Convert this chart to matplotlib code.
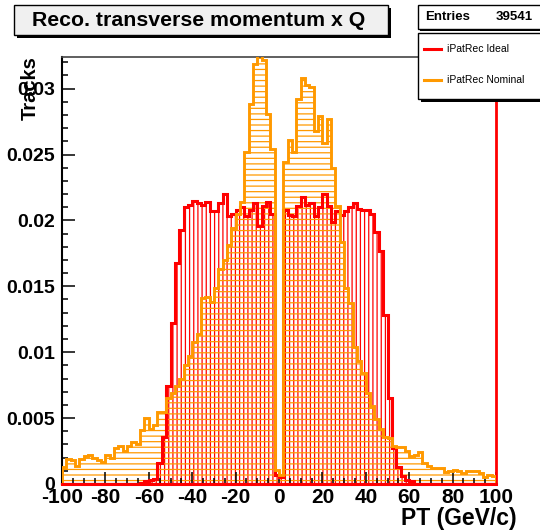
import matplotlib
matplotlib.use('Agg')
import matplotlib.pyplot as plt
import numpy as np
from matplotlib.patches import Rectangle
from matplotlib.lines import Line2D
from matplotlib.ticker import MultipleLocator

plt.rcParams['font.family'] = ['Liberation Sans', 'DejaVu Sans']
plt.rcParams['hatch.linewidth'] = 0.9

# ---------------- data ----------------
bin_edges = np.arange(-100, 101, 2)

ideal = [
    0, 0, 0, 0, 0, 0, 0, 0, 0, 0,
    0, 0, 0, 0, 0, 0, 0, 0, 0.0001, 0.0002,
    0.0003, 0.0004, 0.0016, 0.0036, 0.0074, 0.0122, 0.0168, 0.0193, 0.0210, 0.0212,
    0.0215, 0.0213, 0.0212, 0.0214, 0.0207, 0.0207, 0.0213, 0.0220, 0.0203, 0.0205,
    0.0208, 0.0210, 0.0203, 0.0208, 0.0213, 0.0196, 0.0211, 0.0214, 0.0205, 0.0007,
    0.0005, 0.0208, 0.0204, 0.0203, 0.0211, 0.0218, 0.0212, 0.0213, 0.0203, 0.0210,
    0.0220, 0.0211, 0.0199, 0.0207, 0.0204, 0.0207, 0.0210, 0.0213, 0.0209, 0.0208,
    0.0208, 0.0205, 0.0191, 0.0177, 0.0128, 0.0065, 0.0027, 0.0013, 0.0006, 0.0003,
    0.0002, 0, 0, 0, 0, 0, 0, 0, 0, 0,
    0, 0, 0, 0, 0, 0, 0, 0, 0, 0,
]

nominal = [
    0.0013, 0.0019, 0.0018, 0.0014, 0.0019, 0.0021, 0.0022, 0.0020, 0.0018, 0.0017,
    0.0022, 0.0020, 0.0027, 0.0029, 0.0025, 0.0029, 0.0032, 0.0030, 0.0041, 0.0050,
    0.0042, 0.0045, 0.0055, 0.0055, 0.0065, 0.0069, 0.0074, 0.0080, 0.0090, 0.0097,
    0.0108, 0.0114, 0.0141, 0.0142, 0.0138, 0.0149, 0.0163, 0.0170, 0.0181, 0.0194,
    0.0205, 0.0214, 0.0252, 0.0288, 0.0319, 0.0330, 0.0322, 0.0281, 0.0254, 0.0011,
    0.0007, 0.0244, 0.0261, 0.0252, 0.0292, 0.0308, 0.0303, 0.0301, 0.0268, 0.0279,
    0.0259, 0.0277, 0.0240, 0.0211, 0.0184, 0.0149, 0.0137, 0.0104, 0.0093, 0.0084,
    0.0069, 0.0059, 0.0049, 0.0042, 0.0036, 0.0035, 0.0029, 0.0028, 0.0028, 0.0025,
    0.0021, 0.0022, 0.0024, 0.0016, 0.0014, 0.0012, 0.0012, 0.0012, 0.0009, 0.0010,
    0.0011, 0.0010, 0.0008, 0.0010, 0.0010, 0.0010, 0.0008, 0.0005, 0.0007, 0.0006,
]

x_ticks = [-100, -80, -60, -40, -20, 0, 20, 40, 60, 80, 100]
x_tick_labels = ['-100', '-80', '-60', '-40', '-20', '0', '20', '40', '60', '80', '100']
y_ticks = [0, 0.005, 0.01, 0.015, 0.02, 0.025, 0.03]
y_tick_labels = ['0', '0.005', '0.01', '0.015', '0.02', '0.025', '0.03']

title = 'Reco. transverse momentum x Q'
x_label = 'PT (GeV/c)'
y_label = 'Tracks'
entries_label = 'Entries'
entries_value = '39541'
series_names = ['iPatRec Ideal', 'iPatRec Nominal']

# ---------------- figure ----------------
W, H = 540, 531
fig = plt.figure(figsize=(W / 100, H / 100), dpi=100)


def fx(px):
    return px / W


def fy(py):
    return 1 - py / H


RED = '#ff0000'
ORANGE = '#ff9900'

ax = fig.add_axes([fx(62), fy(484), fx(496) - fx(62), fy(57) - fy(484)])
ax.set_xlim(-100, 100)
ax.set_ylim(0, 0.0324)

ax.stairs(ideal, bin_edges, fill=True, facecolor='none', edgecolor=RED,
          hatch='||||', linewidth=0, zorder=1)
ax.stairs(nominal, bin_edges, fill=True, facecolor='none', edgecolor=ORANGE,
          hatch='---', linewidth=0, zorder=1.1)
ax.stairs(ideal, bin_edges, color=RED, linewidth=2.2, zorder=3)
ax.stairs(nominal, bin_edges, color=ORANGE, linewidth=2.1, zorder=3.1)
ax.plot([-100, 100], [0, 0], color=RED, linewidth=2.2, zorder=3.2, clip_on=False)

ax.set_xticks(x_ticks)
ax.set_xticklabels(x_tick_labels, fontsize=15, fontweight='bold')
ax.set_yticks(y_ticks)
ax.set_yticklabels(y_tick_labels, fontsize=14, fontweight='bold')
ax.xaxis.set_minor_locator(MultipleLocator(5))
ax.yaxis.set_minor_locator(MultipleLocator(0.001))
ax.tick_params(which='both', direction='in', top=False, right=False, width=1.1)
ax.tick_params(which='major', length=9)
ax.tick_params(which='minor', length=4.5)
ax.tick_params(axis='x', pad=3)
ax.tick_params(axis='y', pad=5)

for side in ['left', 'bottom']:
    ax.spines[side].set_color('black')
    ax.spines[side].set_linewidth(1.5)
ax.spines['top'].set_color('#444444')
ax.spines['top'].set_linewidth(1.2)
ax.spines['right'].set_color(RED)
ax.spines['right'].set_linewidth(2.0)

fig.text(fx(30), fy(56), y_label, rotation=90, ha='center', va='top',
         fontsize=14.5, fontweight='bold')
fig.text(fx(517), fy(518), x_label, ha='right', va='center',
         fontsize=16.5, fontweight='bold')


def box(x0, y0, x1, y1, fc, shadow):
    if shadow:
        fig.add_artist(Rectangle((fx(x0 + shadow), fy(y1 + shadow)),
                                 fx(x1) - fx(x0), fy(y0) - fy(y1),
                                 transform=fig.transFigure, facecolor='black',
                                 edgecolor='none', zorder=10))
    fig.add_artist(Rectangle((fx(x0), fy(y1)), fx(x1) - fx(x0), fy(y0) - fy(y1),
                             transform=fig.transFigure, facecolor=fc,
                             edgecolor='black', linewidth=1, zorder=11))


# title
box(14, 5, 388, 35, '#f0f0f0', 3)
fig.text(fx(199), fy(20), title, ha='center', va='center', fontsize=15.3,
         fontweight='bold', zorder=12)

# stats box
box(418, 5, 545, 29, 'white', 2)
fig.text(fx(425), fy(17), entries_label, ha='left', va='center', fontsize=9.5,
         fontweight='bold', zorder=12)
fig.text(fx(533), fy(17), entries_value, ha='right', va='center', fontsize=9.5,
         fontweight='bold', zorder=12)

# legend
box(418, 33, 545, 99, 'white', 3)
for yy, col, name in [(49, RED, series_names[0]), (80, ORANGE, series_names[1])]:
    fig.add_artist(Line2D([fx(424), fx(441)], [fy(yy), fy(yy)], color=col,
                          linewidth=2.2, transform=fig.transFigure, zorder=12))
    fig.text(fx(447), fy(yy), name, ha='left', va='center', fontsize=7.5,
             fontweight='normal', zorder=12)

fig.savefig('out.png', dpi=100)
